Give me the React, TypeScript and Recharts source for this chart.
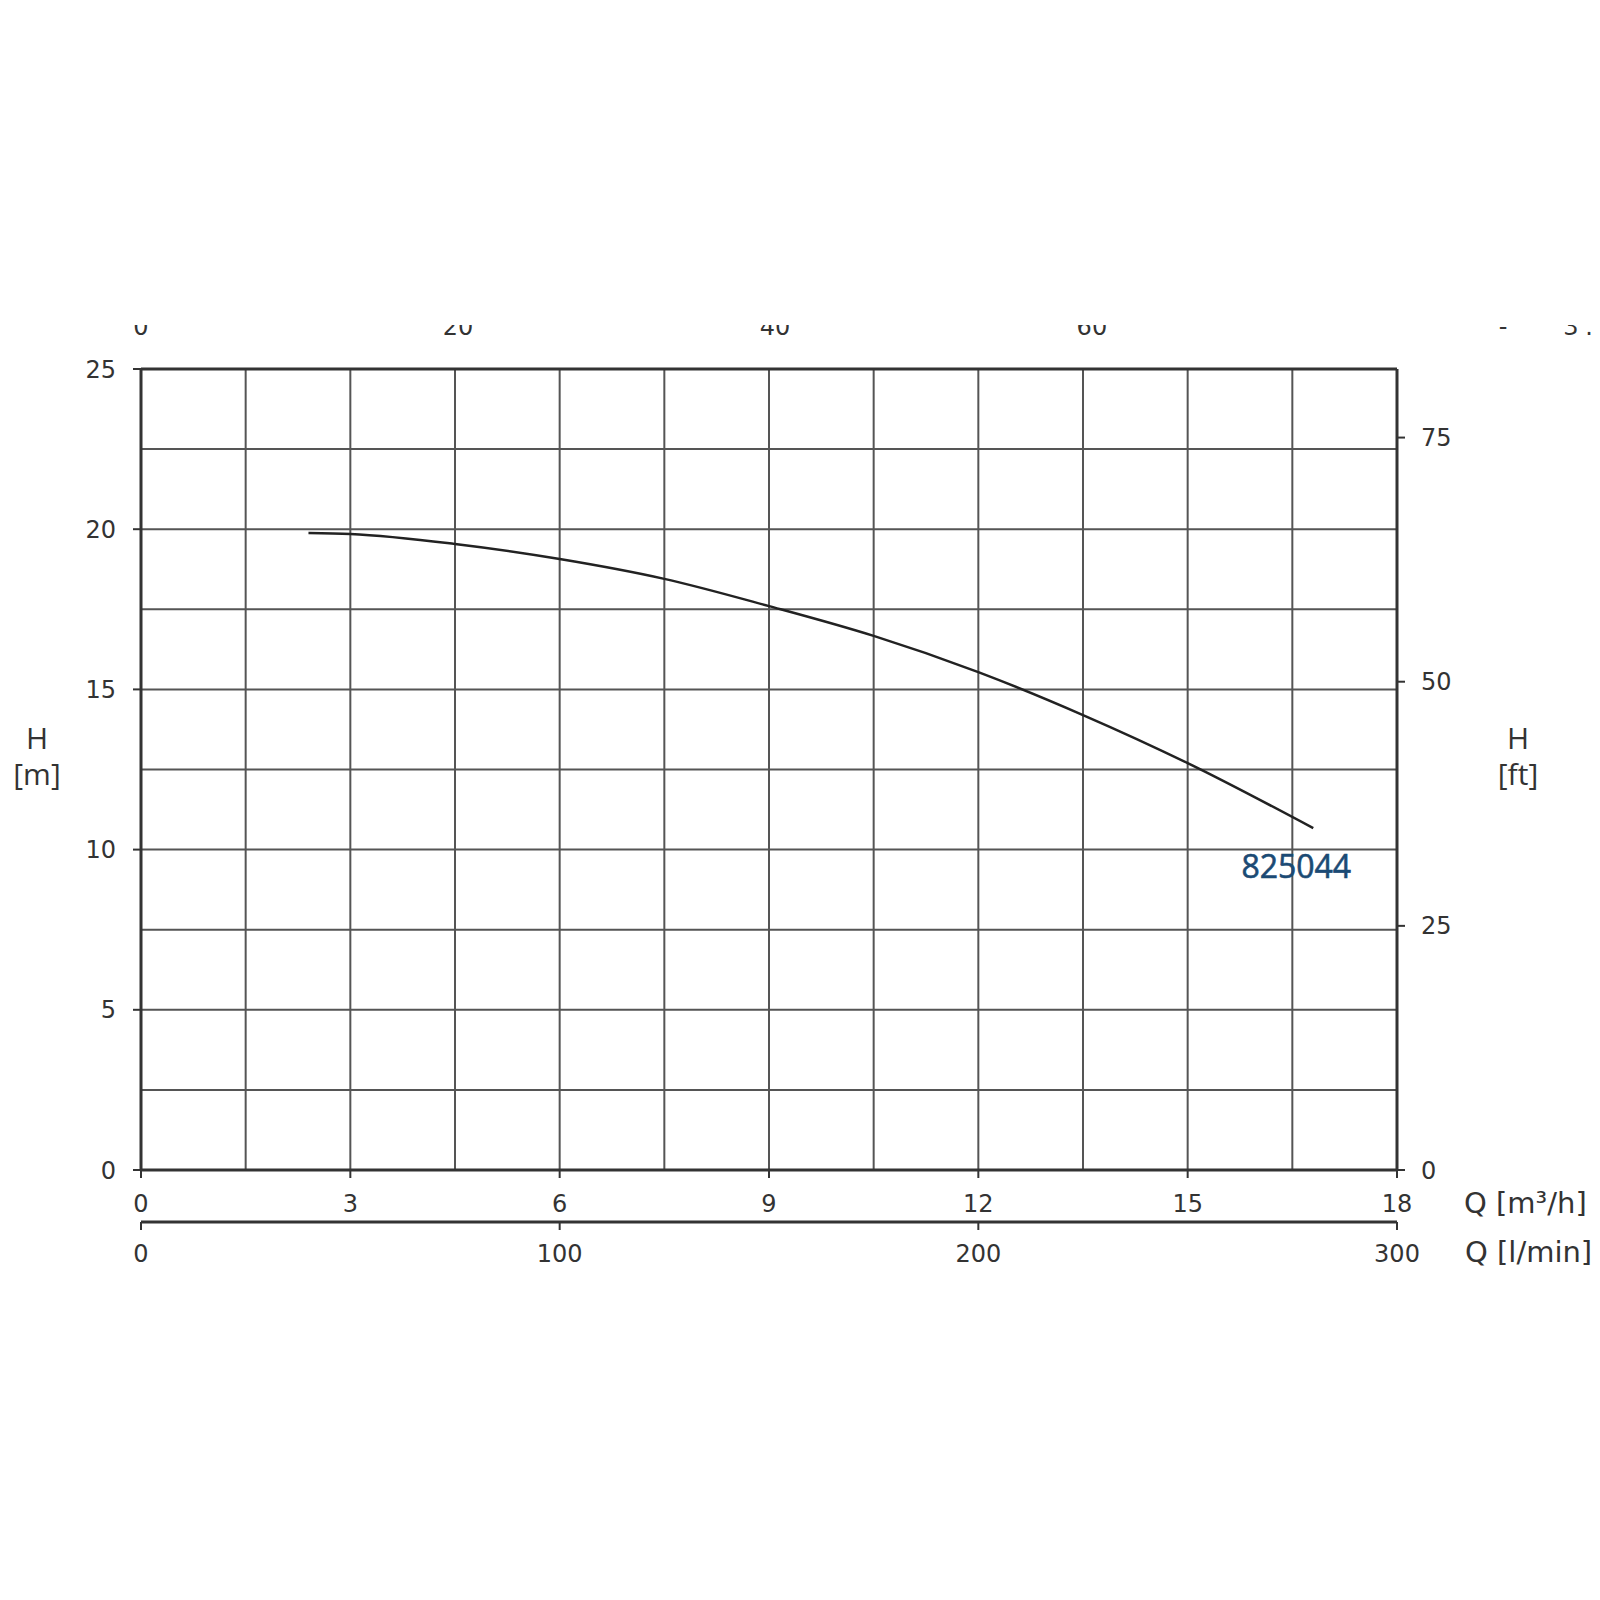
import React from 'react';
import { LineChart, Line, XAxis, YAxis, ReferenceLine, LabelList, Label } from 'recharts';

// ---- data ----
const FLOW_M3H = [2.4, 3, 4.5, 6, 7.5, 9, 10.5, 12, 13.5, 15, 16.8];
const HEAD_M = [19.88, 19.85, 19.54, 19.07, 18.45, 17.6, 16.67, 15.54, 14.2, 12.7, 10.67];
const Q_TICKS = [0, 3, 6, 9, 12, 15, 18];
const LMIN_TICKS = [0, 100, 200, 300];
const GPM_TICKS = [0, 20, 40, 60];
const H_TICKS = [0, 5, 10, 15, 20, 25];
const FT_TICKS = [0, 25, 50, 75];
const GRID_Q = [1.5, 3, 4.5, 6, 7.5, 9, 10.5, 12, 13.5, 15, 16.5];
const GRID_H = [2.5, 5, 7.5, 10, 12.5, 15, 17.5, 20, 22.5];
const CURVE_LABEL = '825044';
const Q_UNIT = 'Q [m³/h]';
const LMIN_UNIT = 'Q [l/min]';
const H_LEFT_UNIT = ['H', '[m]'];
const H_RIGHT_UNIT = ['H', '[ft]'];

const Q_MAX = 18;
const H_MAX = 25;
const M3H_TO_LMIN = 1000 / 60;
const M3H_TO_GPM = 1000 / 60 / 3.785411784;
const M_TO_FT = 1 / 0.3048;
const LMIN_MAX = 300;
const GPM_MAX = Q_MAX * M3H_TO_GPM;
const FT_MAX = H_MAX * M_TO_FT;

const data = FLOW_M3H.map((q, i) => ({
  q,
  h: HEAD_M[i],
  lmin: q * M3H_TO_LMIN,
  gpm: q * M3H_TO_GPM,
  ft: HEAD_M[i] * M_TO_FT,
}));

const TICK_FONT = 'DejaVu Sans';
const LABEL_FONT = 'Open Sans';
const TICK_STYLE = { fontFamily: TICK_FONT, fontSize: 24, fill: '#333' };
const FRAME = { stroke: '#333', strokeWidth: 3 };
const TICKLINE = { stroke: '#333', strokeWidth: 2 };

const GpmTick = (props: any) => {
  const { x, y, payload } = props;
  const id = `gpm-clip-${payload.value}`;
  return (
    <g>
      <defs>
        <clipPath id={id}>
          <rect x={x - 40} y={y - 10} width={80} height={30} />
        </clipPath>
      </defs>
      <text x={x} y={y} textAnchor="middle" clipPath={`url(#${id})`} fontFamily={TICK_FONT} fontSize={24} fill="#333">
        {payload.value}
      </text>
    </g>
  );
};

const TopUnitPieces = (props: any) => {
  const vb = props.viewBox || {};
  const right = vb.x + vb.width;
  const base = vb.y + vb.height - 34;
  return (
    <g>
      <defs>
        <clipPath id="gpm-unit-clip">
          <rect x={right + 80} y={base - 10} width={220} height={30} />
        </clipPath>
      </defs>
      <g clipPath="url(#gpm-unit-clip)" fontFamily={TICK_FONT} fontSize={24} fill="#333">
        <text x={right + 106} y={base} textAnchor="middle">-</text>
        <text x={right + 174} y={base} textAnchor="middle">3</text>
        <text x={right + 192} y={base} textAnchor="middle">.</text>
      </g>
    </g>
  );
};

const makeUnitLabel = (text: string, dx: number, dy: number) => (props: any) => {
  const vb = props.viewBox || {};
  return (
    <text x={vb.x + vb.width + dx} y={vb.y + dy} fontFamily={TICK_FONT} fontSize={29} fill="#333">
      {text}
    </text>
  );
};

const makeHLabel = (lines: string[], dx: number) => (props: any) => {
  const vb = props.viewBox || {};
  const cy = vb.y + vb.height / 2;
  return (
    <g fontFamily={LABEL_FONT} fontSize={30} fill="#333" textAnchor="middle">
      <text x={vb.x + dx} y={cy - 20.5}>{lines[0]}</text>
      <text x={vb.x + dx} y={cy + 15.5}>{lines[1]}</text>
    </g>
  );
};

const CurveLabel = (props: any) => {
  const { x, y, index } = props;
  if (index !== data.length - 1) return null;
  return (
    <text
      x={x - 17}
      y={y + 50}
      textAnchor="middle"
      fontFamily={LABEL_FONT}
      fontSize={32}
      fill="#1b4a74"
      stroke="#1b4a74"
      strokeWidth={0.6}
    >
      {CURVE_LABEL}
    </text>
  );
};

export default function App() {
  return (
    <div style={{ position: 'absolute', left: 0, top: 0, width: 1600, height: 1600, background: '#fff' }}>
      <LineChart width={1600} height={1600} data={data} margin={{ top: 0, right: 0, bottom: 0, left: 0 }}>
        <XAxis
          xAxisId="a1q"
          dataKey="q"
          type="number"
          domain={[0, Q_MAX]}
          ticks={Q_TICKS}
          interval={0}
          orientation="bottom"
          height={52}
          axisLine={FRAME}
          tickLine={TICKLINE}
          tickSize={8}
          tickMargin={17}
          tick={TICK_STYLE}
          allowDataOverflow
        >
          <Label content={makeUnitLabel(Q_UNIT, 67, 43)} />
        </XAxis>
        <XAxis
          xAxisId="a2lmin"
          dataKey="lmin"
          type="number"
          domain={[0, LMIN_MAX]}
          ticks={LMIN_TICKS}
          interval={0}
          orientation="bottom"
          height={378}
          axisLine={FRAME}
          tickLine={TICKLINE}
          tickSize={8}
          tickMargin={15}
          tick={TICK_STYLE}
          allowDataOverflow
        >
          <Label content={makeUnitLabel(LMIN_UNIT, 68, 40)} />
        </XAxis>
        <XAxis
          xAxisId="a3gpm"
          dataKey="gpm"
          type="number"
          domain={[0, GPM_MAX]}
          ticks={GPM_TICKS}
          interval={0}
          orientation="top"
          height={369}
          axisLine={FRAME}
          tickLine={false}
          tickSize={0}
          tickMargin={34}
          tick={GpmTick}
          allowDataOverflow
        >
          <Label content={TopUnitPieces} />
        </XAxis>
        <YAxis
          yAxisId="m"
          type="number"
          domain={[0, H_MAX]}
          ticks={H_TICKS}
          interval={0}
          width={141}
          axisLine={FRAME}
          tickLine={TICKLINE}
          tickSize={8}
          tickMargin={17}
          tick={TICK_STYLE}
          allowDataOverflow
        >
          <Label content={makeHLabel(H_LEFT_UNIT, 37)} />
        </YAxis>
        <YAxis
          yAxisId="ft"
          orientation="right"
          type="number"
          domain={[0, FT_MAX]}
          ticks={FT_TICKS}
          interval={0}
          width={203}
          axisLine={FRAME}
          tickLine={TICKLINE}
          tickSize={8}
          tickMargin={16}
          tick={TICK_STYLE}
          allowDataOverflow
        >
          <Label content={makeHLabel(H_RIGHT_UNIT, 121)} />
        </YAxis>
        {GRID_Q.map((v) => (
          <ReferenceLine key={`gq${v}`} xAxisId="a1q" yAxisId="m" x={v} stroke="#555" strokeWidth={2} />
        ))}
        {GRID_H.map((v) => (
          <ReferenceLine key={`gh${v}`} xAxisId="a1q" yAxisId="m" y={v} stroke="#555" strokeWidth={2} />
        ))}
        <Line xAxisId="a2lmin" yAxisId="ft" dataKey="ft" stroke="none" strokeWidth={0} dot={false} activeDot={false} isAnimationActive={false} />
        <Line xAxisId="a3gpm" yAxisId="ft" dataKey="ft" stroke="none" strokeWidth={0} dot={false} activeDot={false} isAnimationActive={false} />
        <Line
          xAxisId="a1q"
          yAxisId="m"
          dataKey="h"
          type="monotone"
          stroke="#222"
          strokeWidth={2.5}
          dot={false}
          isAnimationActive={false}
        >
          <LabelList dataKey="h" content={CurveLabel} />
        </Line>
      </LineChart>
    </div>
  );
}
